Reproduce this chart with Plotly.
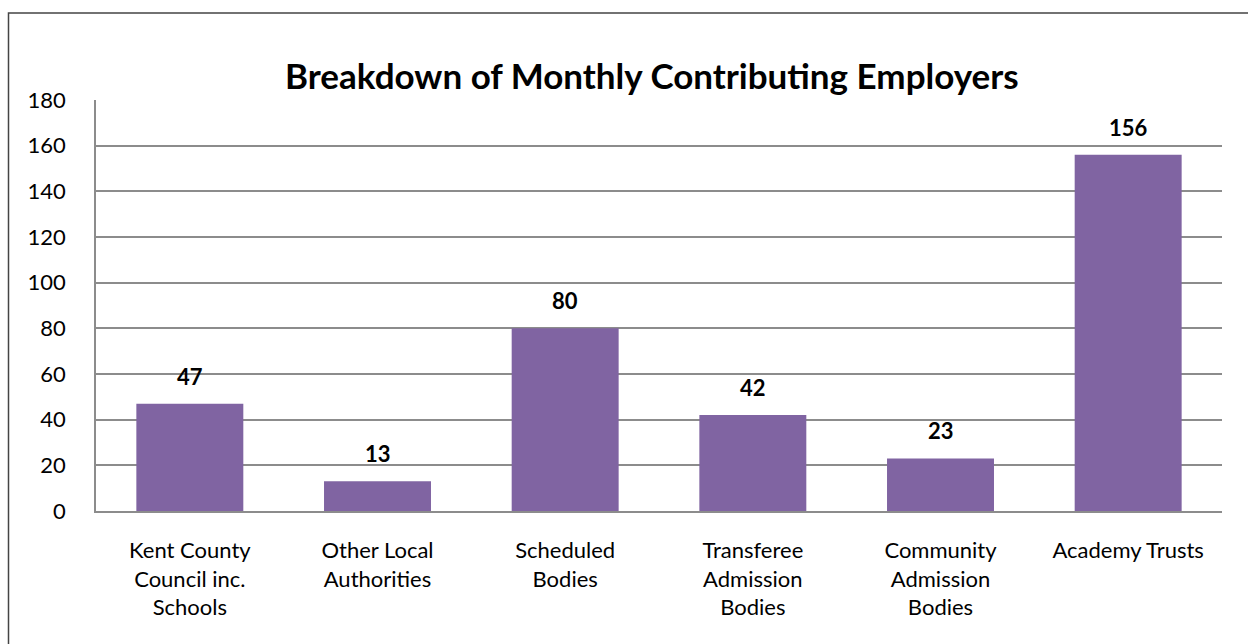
import plotly.graph_objects as go

categories = ["Kent County<br>Council inc.<br>Schools", "Other Local<br>Authorities",
              "Scheduled<br>Bodies", "Transferee<br>Admission<br>Bodies",
              "Community<br>Admission<br>Bodies", "Academy Trusts"]
values = [47, 13, 80, 42, 23, 156]
y_ticks = [0, 20, 40, 60, 80, 100, 120, 140, 160, 180]

FONT = "Lato"
BAR = "#8064A2"
GRID = "#8c8c8c"

fig = go.Figure()
fig.add_trace(go.Bar(
    x=categories, y=values,
    marker=dict(color=BAR, line=dict(width=0)),
    hoverinfo="skip",
))

for c, v in zip(categories, values):
    fig.add_annotation(x=c, y=v, text=f"<b>{v}</b>", showarrow=False,
                       yanchor="bottom", yshift=12,
                       font=dict(family=FONT, size=22, color="#000"))

fig.add_annotation(xref="paper", yref="paper", x=(652 - 96) / 1126, y=(511 - 75) / 411,
                   text="<b>Breakdown of Monthly Contributing Employers</b>",
                   showarrow=False, xanchor="center", yanchor="middle",
                   font=dict(family=FONT, size=35, color="#000"))

# outer chart border (top/left visible; continues past the window)
fig.add_shape(type="rect", xref="paper", yref="paper",
              x0=(8.5 - 96) / 1126, x1=1.2, y0=-0.5, y1=(511 - 13) / 411,
              line=dict(color="#444", width=1.5), layer="below")

fig.update_layout(
    width=1248, height=644,
    margin=dict(l=96, r=26, t=100, b=133),
    paper_bgcolor="white", plot_bgcolor="white",
    bargap=0.43, showlegend=False,
    font=dict(family=FONT, size=22, color="#000"),
)
fig.update_xaxes(showgrid=False, showline=True, linecolor=GRID, linewidth=1.5,
                 ticks="", tickfont=dict(family=FONT, size=22, color="#000"),
                 ticklabelstandoff=19)
fig.update_yaxes(range=[0, 180], tickvals=y_ticks, showgrid=True, gridcolor=GRID,
                 gridwidth=1.5, showline=True, linecolor=GRID, linewidth=1.5,
                 zeroline=False, ticks="", ticklabelstandoff=24,
                 tickfont=dict(family=FONT, size=22, color="#000"))

fig.write_html("out.html", config={"displayModeBar": False},
               post_script="document.body.style.margin='0';document.body.style.overflow='hidden';")
